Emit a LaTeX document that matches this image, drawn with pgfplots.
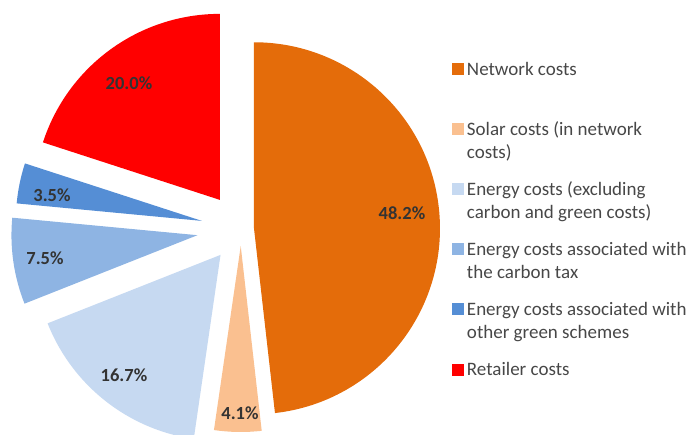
\documentclass[border=0pt]{standalone}
\usepackage{fontspec}
\setmainfont{Carlito}
\usepackage{pgfplots}
\pgfplotsset{compat=1.18}

\definecolor{cNetwork}{RGB}{228,108,10}
\definecolor{cSolar}{RGB}{250,192,144}
\definecolor{cEnergy}{RGB}{198,217,241}
\definecolor{cCarbon}{RGB}{142,180,227}
\definecolor{cGreen}{RGB}{85,142,213}
\definecolor{cRetail}{RGB}{255,0,0}

% pie centre (241,206) and radius 186, in bp; slices run clockwise from 12 o'clock
\def\runangle{90}
\newcommand\legtext[2]{\parbox[t]{300bp}{\strut #1\\\strut #2}}
\newcommand\pieslice[4]{% share in %, explode offset, colour, legend text
  \pgfmathsetmacro\sb{\runangle}%
  \pgfmathsetmacro\sa{\runangle-3.6*#1}%
  \pgfmathsetmacro\sm{(\sa+\sb)/2}%
  \pgfmathsetmacro\px{241+#2*cos(\sm)}%
  \pgfmathsetmacro\py{206+#2*sin(\sm)}%
  \pgfmathsetmacro\qx{\px+186*cos(\sa)}%
  \pgfmathsetmacro\qy{\py+186*sin(\sa)}%
  \edef\temp{\noexpand\addplot[fill=#3, draw=none] coordinates {(\px,\py)}
    -- (axis cs:\qx,\qy) arc[start angle=\sa, end angle=\sb, radius=186bp] -- cycle;}%
  \temp
  \addlegendentry{#4}%
  \xdef\runangle{\sa}%
}

\begin{document}
\begin{tikzpicture}
\useasboundingbox (0,0) rectangle (697bp,435bp);
\begin{axis}[
    at={(0,0)}, anchor=south west,
    x=1bp, y=1bp,
    xmin=0, xmax=697, ymin=0, ymax=435,
    hide axis, clip=true,
    legend image code/.code={\fill[#1] (0bp,0bp) rectangle (12bp,12bp);},
    legend style={
        at={(452/697,376/435)}, anchor=north west,
        draw=none, fill=none, inner sep=0pt, outer sep=0pt,
        row sep=42.5bp, column sep=3bp,
        nodes={inner sep=0pt, text=black!72,
               font=\fontsize{19bp}{23bp}\selectfont},
        cells={anchor=base west},
    },
]
\pieslice{48.2}{13}{cNetwork}{\legtext{Network costs}{}}
\pieslice{4.1}{17}{cSolar}{\legtext{Solar costs (in network}{costs)}}
\pieslice{16.7}{33}{cEnergy}{\legtext{Energy costs (excluding}{carbon and green costs)}}
\pieslice{7.5}{44}{cCarbon}{\legtext{Energy costs associated with}{the carbon tax}}
\pieslice{3.5}{40}{cGreen}{\legtext{Energy costs associated with}{other green schemes}}
\pieslice{20.0}{36}{cRetail}{\legtext{Retailer costs}{}}

\begin{scope}[every node/.style={font=\fontsize{18.5bp}{22bp}\selectfont\bfseries, text=black!80}]
\node at (axis cs:402,222) {48.2\%};
\node at (axis cs:240,22) {4.1\%};
\node at (axis cs:124,60) {16.7\%};
\node at (axis cs:45,177) {7.5\%};
\node at (axis cs:52,240) {3.5\%};
\node at (axis cs:129,352) {20.0\%};
\end{scope}
\end{axis}
\end{tikzpicture}
\end{document}
